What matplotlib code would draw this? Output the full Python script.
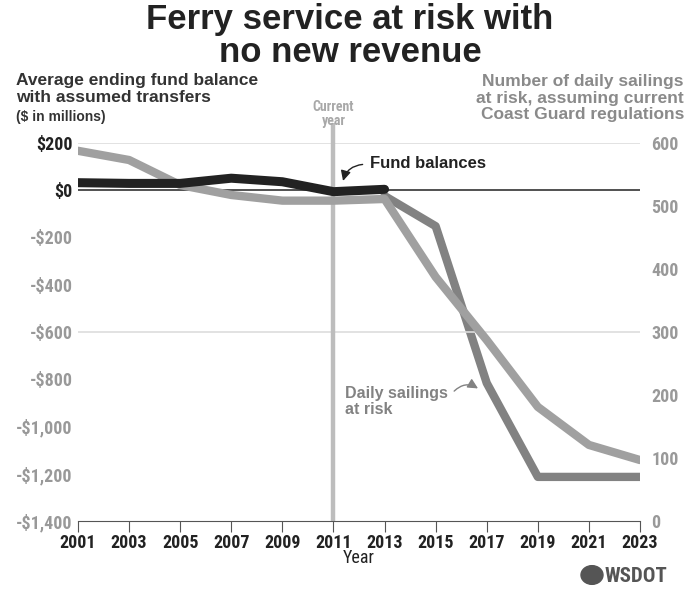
import matplotlib
matplotlib.use("Agg")
import matplotlib.pyplot as plt
from matplotlib import font_manager
from matplotlib.patches import FancyArrowPatch, Circle

# data
years = [2001, 2003, 2005, 2007, 2009, 2011, 2013, 2015, 2017, 2019, 2021, 2023]
fund_years = [2001, 2003, 2005, 2007, 2009, 2011, 2013]
fund_balance = [32, 29, 29, 51, 36, -6, 4]                    # $ millions, black
other_balance = [167, 128, 22, -20, -44, -44, -37, -367, -634, -917, -1078, -1142]  # light gray, left axis
sail_years = [2013, 2015, 2017, 2019, 2021, 2023]
sailings = [516, 468, 219, 70, 70, 70]                        # darker gray, right axis

left_ticks = [200, 0, -200, -400, -600, -800, -1000, -1200, -1400]
left_labels = ["$200", "$0", "-$200", "-$400", "-$600", "-$800", "-$1,000", "-$1,200", "-$1,400"]
right_ticks = [0, 100, 200, 300, 400, 500, 600]

names = {f.name for f in font_manager.fontManager.ttflist}
narrow = "DejaVu Sans"
for cand in ["Liberation Sans Narrow", "Roboto Condensed", "DejaVu Sans Condensed", "Liberation Sans"]:
    if cand in names:
        narrow = cand
        break
plt.rcParams["font.family"] = ["Liberation Sans", "DejaVu Sans"]

black = "#222222"
light = "#a0a0a0"
dark = "#828282"
tickgray = "#999999"

fig = plt.figure(figsize=(7.0, 5.94), dpi=100)
ax = fig.add_axes([78/700, 1-521/594, (640-78)/700, (521-143)/594])
ax2 = ax.twinx()
ax.set_zorder(ax2.get_zorder() + 1)
ax.patch.set_visible(False)

ax.set_xlim(2001, 2023)
ax.set_ylim(-1400, 200)
ax2.set_ylim(0, 600)

for a in (ax, ax2):
    for s in ["left", "right", "top"]:
        a.spines[s].set_visible(False)
ax2.spines["bottom"].set_visible(False)
ax.spines["bottom"].set_color("#555555")
ax.spines["bottom"].set_linewidth(0.8)

# gridlines and zero line
ax.axhline(200, color="#dddddd", lw=1.2, zorder=0)
ax.axhline(-600, color="#dddddd", lw=1.2, zorder=0)
ax.axhline(0, color="#333333", lw=1.2, zorder=1)

# current year marker
ax.plot([2011, 2011], [-1400, 285], color="#bdbdbd", lw=3.2, clip_on=False, zorder=1,
        solid_capstyle="butt")
ax.text(2011, 322, "Current\nyear", ha="center", va="center", color="#a8a8a8",
        fontsize=10, fontweight="bold", linespacing=0.95, family=narrow)

ax2.plot(sail_years, sailings, color=dark, lw=6, solid_capstyle="round", solid_joinstyle="round")
ax.plot(years, other_balance, color=light, lw=6, solid_capstyle="round", solid_joinstyle="round", zorder=3)
ax.plot(fund_years, fund_balance, color=black, lw=6.5, solid_capstyle="round", solid_joinstyle="round", zorder=4)

# ticks
ax.set_xticks(years)
ax.set_xticklabels([str(y) for y in years], fontsize=13, fontweight="bold", family=narrow, color=black)
ax.tick_params(axis="x", direction="out", length=8, width=0.8, color="#555555", pad=1)
ax.set_yticks(left_ticks)
ax.set_yticklabels(left_labels, fontsize=13, fontweight="bold", family=narrow)
ax.tick_params(axis="y", length=0, pad=4)
for lab, v in zip(ax.get_yticklabels(), left_ticks):
    lab.set_color(black if v >= 0 else tickgray)
ax2.set_yticks(right_ticks)
ax2.set_yticklabels([str(t) for t in right_ticks], fontsize=13, fontweight="bold", family=narrow, color=tickgray)
ax2.tick_params(axis="y", length=0, pad=8)
ax.set_xlabel("Year", fontsize=13, family=narrow, color=black, labelpad=-2)

# annotations
ax.text(2012.43, 115, "Fund balances", fontsize=12, fontweight="bold", color=black, va="center")
ax.add_patch(FancyArrowPatch((2012.25, 110), (2011.35, 28), connectionstyle="arc3,rad=0.4",
                             arrowstyle="-|>,head_length=6,head_width=3", color=black, lw=1))
ax2.text(2011.45, 190, "Daily sailings\nat risk", fontsize=11.5, fontweight="bold", color=dark,
         va="center", linespacing=1.05)
ax2.add_patch(FancyArrowPatch((2015.65, 203), (2016.75, 208), connectionstyle="arc3,rad=-0.45",
                              arrowstyle="-|>,head_length=6,head_width=3", color=dark, lw=1))

# titles and axis headers
fig.text(0.5, 1-20/594, "Ferry service at risk with", ha="center", va="center",
         fontsize=25, fontweight="bold", color=black)
fig.text(0.5, 1-52/594, "no new revenue", ha="center", va="center",
         fontsize=25, fontweight="bold", color=black)
fig.text(16/700, 1-89/594, "Average ending fund balance\nwith assumed transfers", ha="left", va="center",
         fontsize=12.5, fontweight="bold", color="#333333", linespacing=1.1)
fig.text(16/700, 1-117/594, "($ in millions)", ha="left", va="center",
         fontsize=10, fontweight="bold", color="#333333")
fig.text(684/700, 1-98/594, "Number of daily sailings\nat risk, assuming current\nCoast Guard regulations",
         ha="right", va="center", fontsize=12.5, fontweight="bold", color="#8a8a8a", linespacing=1.1)

# logo
fig.patches.append(Circle((592/700, 1-575/594), 11/700, transform=fig.transFigure, color="#555555"))
fig.text(605/700, 1-576/594, "WSDOT", ha="left", va="center", fontsize=15, fontweight="bold",
         color="#555555", family=narrow)

fig.savefig("out.png", dpi=100)
